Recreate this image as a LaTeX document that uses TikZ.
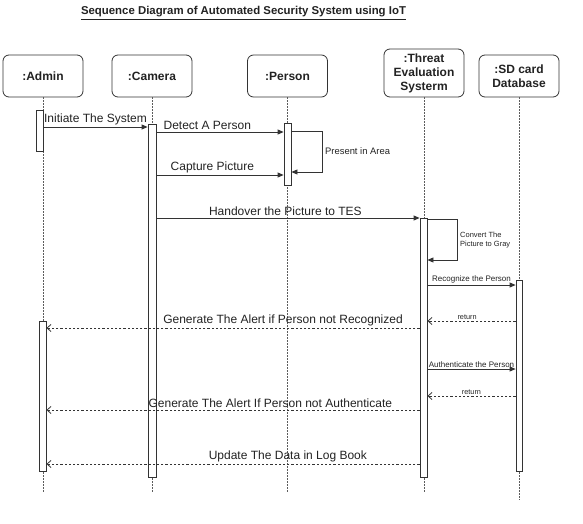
\documentclass[tikz,border=0pt]{standalone}
\usepackage{fontspec}
\setmainfont{Liberation Sans}
\usepackage{xcolor}
\usetikzlibrary{arrows.meta,calc}
\definecolor{linec}{HTML}{333333}
\definecolor{textc}{HTML}{222222}

\begin{document}
\begin{tikzpicture}[x=1pt, y=-1pt, text=textc]
  \tikzstyle{actor}=[draw=linec, line width=0.8pt, rounded corners=6pt, minimum width=80pt, minimum height=42pt, align=center, inner sep=0pt, font=\bfseries\fontsize{12}{14}\selectfont]
  \tikzstyle{life}=[draw=linec!80, line width=0.8pt, dash pattern=on 1.2pt off 1.8pt]
  \tikzstyle{bar}=[draw=linec, line width=0.8pt, fill=white, minimum width=7pt, inner sep=0pt]
  \tikzstyle{msg}=[draw=linec, line width=0.8pt, -{Triangle[length=6pt,width=5pt]}]
  \tikzstyle{ret}=[draw=linec, line width=0.8pt, dash pattern=on 2.2pt off 2pt, -{Straight Barb[length=4pt,width=7pt]}]
  \tikzstyle{lbl}=[above, inner sep=1.5pt, font=\fontsize{12}{14}\selectfont]
  \tikzstyle{slbl}=[above, inner sep=1pt, font=\fontsize{8}{9}\selectfont]

  \useasboundingbox (0,0) rectangle (583,524);

  % Title
  \node[font=\bfseries\fontsize{11.4}{13}\selectfont] (title) at (243.5,13) {\underline{Sequence Diagram of Automated Security System using IoT}};

  % Objects
  \node[actor] (adm) at (43,76) {:Admin};
  \node[actor] (cam) at (152,76) {:Camera};
  \node[actor] (per) at (287.5,76) {:Person};
  \node[actor, minimum height=48pt] (tes) at (424,73) {:Threat\\Evaluation\\Systerm};
  \node[actor] (sd) at (519,76) {:SD card\\Database};

  % Lifelines
  \draw[life] (adm.south) -- (adm.south |- 0,492);
  \draw[life] (cam.south) -- (cam.south |- 0,492);
  \draw[life] (per.south) -- (per.south |- 0,492);
  \draw[life] (tes.south) -- (tes.south |- 0,492);
  \draw[life] (sd.south) -- (sd.south |- 0,500);

  % Activations
  \node[bar, minimum height=41pt] (adm1) at (39.5,130.5) {};
  \node[bar, minimum height=150pt] (adm2) at (42.5,396) {};
  \node[bar, minimum width=8pt, minimum height=353pt] (camb) at (152,300.5) {};
  \node[bar, minimum height=62pt] (perb) at (287.5,154) {};
  \node[bar, minimum height=259pt] (tesb) at (423.5,347.5) {};
  \node[bar, minimum width=6pt, minimum height=191pt] (sdb) at (519,375.5) {};

  % Messages
  \draw[msg] (adm1.east |- 0,127) -- node[lbl] (m1) {Initiate The System} (camb.west |- 0,127);
  \draw[msg] (camb.east |- 0,132) -- node[lbl, pos=0.4] (m2) {Detect A Person} (perb.west |- 0,132);
  \draw[msg] (perb.east |- 0,131) -- ++(31,0) |- (perb.east |- 0,172);
  \node[anchor=west, inner sep=0pt, font=\fontsize{9.4}{11}\selectfont] (m3) at (325,151) {Present in Area};
  \draw[msg] (camb.east |- 0,175) -- node[lbl, pos=0.44] (m4) {Capture Picture} (perb.west |- 0,175);
  \draw[msg] (camb.east |- 0,218) -- node[lbl, pos=0.49] (m5) {Handover the Picture to TES} (tesb.west |- 0,218);
  \draw[msg] (tesb.east |- 0,219) -- ++(30,0) |- (tesb.east |- 0,260);
  \node[anchor=west, align=left, inner sep=0pt, font=\fontsize{7.5}{8.5}\selectfont] (m6) at (460,240) {Convert The\\Picture to Gray};
  \draw[msg] (tesb.east |- 0,285) -- node[slbl] (m7) {Recognize the Person} (sdb.west |- 0,285);
  \draw[ret] (sdb.west |- 0,321) -- node[slbl, pos=0.55, font=\fontsize{7.3}{9}\selectfont] (m8) {return} (tesb.east |- 0,321);
  \draw[ret] (tesb.west |- 0,328) -- node[lbl, pos=0.366] (m9) {Generate The Alert if Person not Recognized} (adm2.east |- 0,328);
  \draw[msg] (tesb.east |- 0,369) -- node[slbl] (m10) {Authenticate the Person} (sdb.west |- 0,369);
  \draw[ret] (sdb.west |- 0,396) -- node[slbl, font=\fontsize{7.3}{9}\selectfont] (m11) {return} (tesb.east |- 0,396);
  \draw[ret] (tesb.west |- 0,410) -- node[lbl, pos=0.40] (m12) {Generate The Alert If Person not Authenticate} (adm2.east |- 0,410);
  \draw[ret] (tesb.west |- 0,464) -- node[lbl, pos=0.353] (m13) {Update The Data in Log Book} (adm2.east |- 0,464);
\end{tikzpicture}
\end{document}
